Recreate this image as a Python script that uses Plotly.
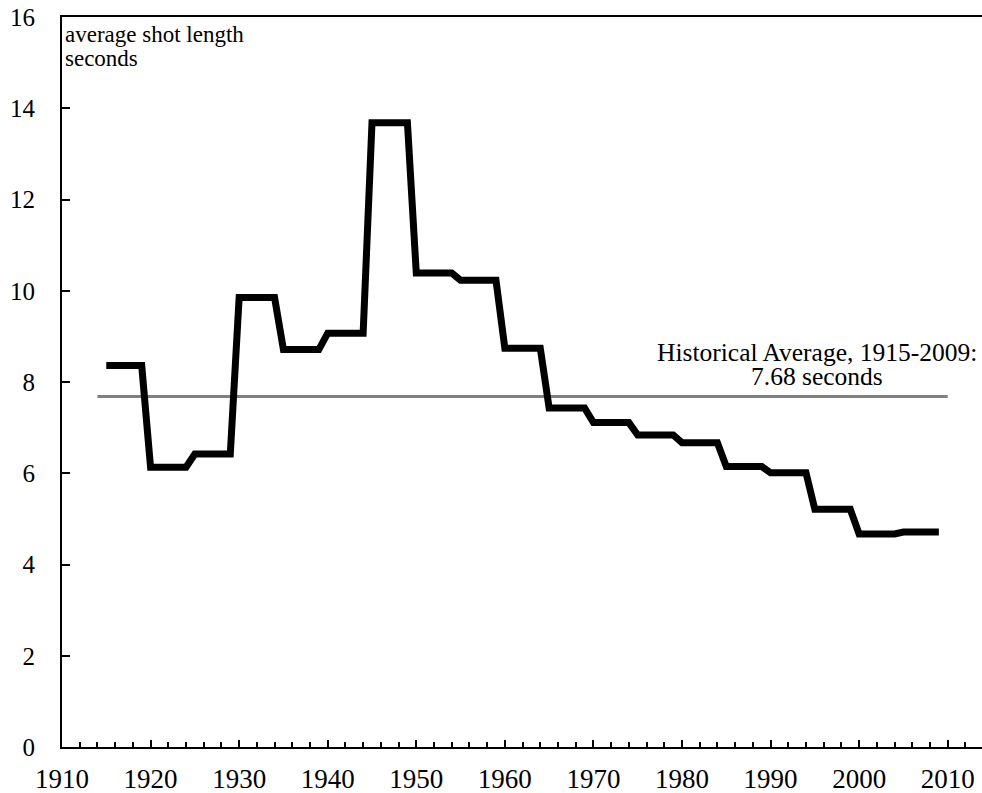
import plotly.graph_objects as go

# 5-year block start years and average shot length (seconds)
block_starts = [1915, 1920, 1925, 1930, 1935, 1940, 1945, 1950, 1955, 1960,
                1965, 1970, 1975, 1980, 1985, 1990, 1995, 2000, 2005]
asl_values = [8.36, 6.13, 6.42, 9.85, 8.71, 9.07, 13.68, 10.39, 10.23, 8.74,
              7.43, 7.11, 6.84, 6.67, 6.15, 6.01, 5.21, 4.67, 4.71]
block_len = 4

avg_value = 7.68
avg_span = [1914, 2010]
avg_label_lines = ["Historical Average, 1915-2009:", "7.68 seconds"]
axis_label_lines = ["average shot length", "seconds"]

x_tick_vals = list(range(1910, 2011, 10))
y_tick_vals = list(range(0, 17, 2))

xs, ys = [], []
for s, v in zip(block_starts, asl_values):
    xs += [s, s + block_len]
    ys += [v, v]

FONT = "Liberation Serif"

fig = go.Figure()
fig.add_trace(go.Scatter(x=avg_span, y=[avg_value, avg_value], mode="lines",
                         line=dict(color="rgb(128,128,128)", width=3),
                         showlegend=False, hoverinfo="skip"))
fig.add_trace(go.Scatter(x=xs, y=ys, mode="lines",
                         line=dict(color="black", width=7),
                         showlegend=False))

# annotation for the average line (two lines, tight spacing)
for txt, yv in zip(avg_label_lines, [8.64, 8.12]):
    fig.add_annotation(x=1995.2, y=yv, xref="x", yref="y", text=txt,
                       showarrow=False, yanchor="middle", xanchor="center",
                       font=dict(family=FONT, size=25.5, color="black"))

# axis title inside top-left
for txt, yv in zip(axis_label_lines, [15.61, 15.09]):
    fig.add_annotation(x=0, y=yv, xref="paper", yref="y", text=txt,
                       showarrow=False, xanchor="left", yanchor="middle",
                       xshift=1,
                       font=dict(family=FONT, size=23, color="black"))

fig.update_layout(
    width=982, height=793,
    margin=dict(l=62, r=0, t=17, b=46),
    plot_bgcolor="white", paper_bgcolor="white",
    font=dict(family=FONT, size=26, color="black"),
    xaxis=dict(range=[1910, 1910 + 920 / 8.857], tickmode="array",
               tickvals=x_tick_vals, ticks="inside", ticklen=7, tickwidth=2,
               tickcolor="black", showline=True, linecolor="black",
               linewidth=2, mirror=True, showgrid=False, zeroline=False,
               ticklabelstandoff=7,
               minor=dict(dtick=2, ticks="inside", ticklen=5, tickwidth=1.5,
                          tickcolor="black", showgrid=False),
               tickfont=dict(family=FONT, size=27, color="black")),
    yaxis=dict(range=[0, 16], tickmode="array", tickvals=y_tick_vals,
               ticks="inside", ticklen=8, tickwidth=2, tickcolor="black",
               showline=True, linecolor="black", linewidth=2,
               showgrid=False, zeroline=False, ticklabelstandoff=20,
               tickfont=dict(family=FONT, size=25, color="black")),
)

fig.write_html("out.html", config={"displayModeBar": False},
               post_script="document.body.style.margin='0';")
